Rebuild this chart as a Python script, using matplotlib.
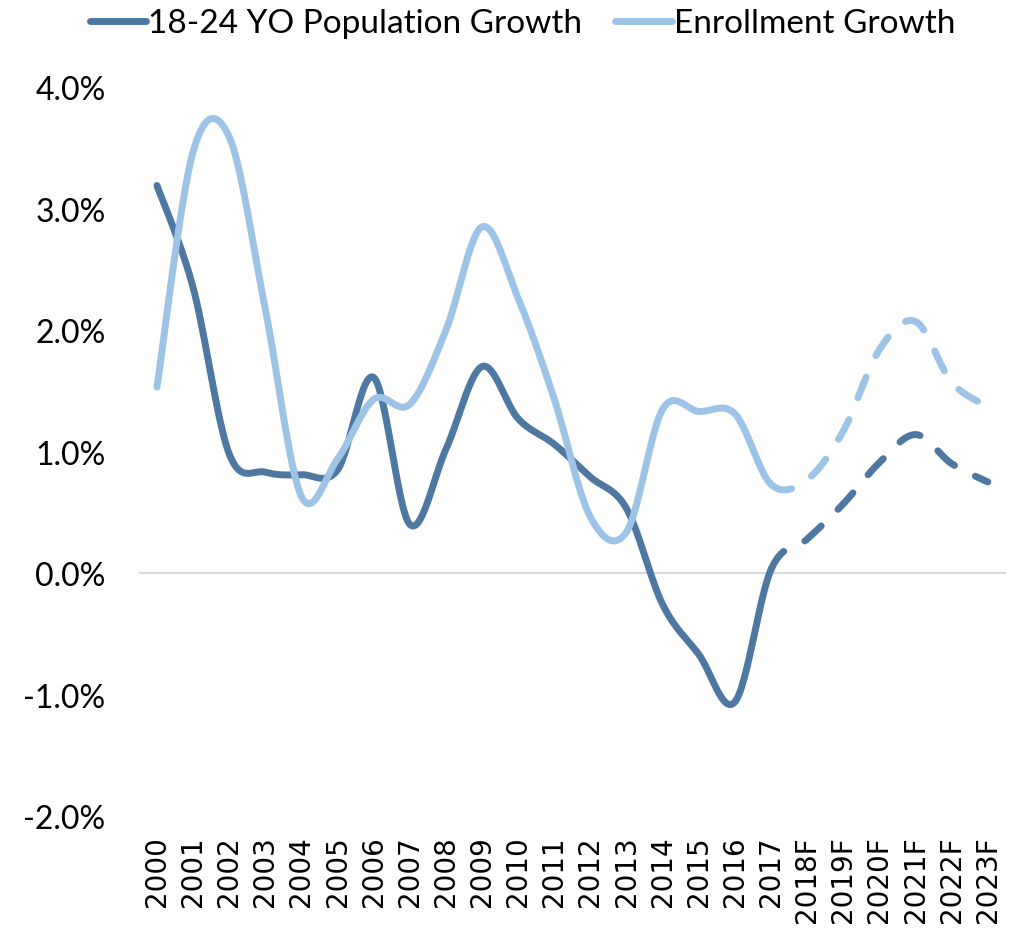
import numpy as np
import matplotlib
matplotlib.use("Agg")
import matplotlib.pyplot as plt
from matplotlib.ticker import FuncFormatter

years = ["2000", "2001", "2002", "2003", "2004", "2005", "2006", "2007", "2008",
         "2009", "2010", "2011", "2012", "2013", "2014", "2015", "2016", "2017",
         "2018F", "2019F", "2020F", "2021F", "2022F", "2023F"]
pop_growth = [3.19, 2.35, 0.98, 0.83, 0.81, 0.85, 1.61, 0.40, 1.02, 1.70, 1.27, 1.06,
              0.79, 0.53, -0.26, -0.67, -1.06, 0.03, 0.28, 0.57, 0.91, 1.14, 0.90, 0.75]
enroll_growth = [1.53, 3.47, 3.59, 2.17, 0.63, 0.94, 1.43, 1.39, 2.00, 2.85, 2.26, 1.43,
                 0.46, 0.34, 1.35, 1.33, 1.31, 0.73, 0.77, 1.17, 1.84, 2.07, 1.57, 1.37]
last_actual = years.index("2017")

DARK = "#4e78a2"
LIGHT = "#9dc3e6"


def smooth(x, y, n=30):
    # catmull-rom style bezier, like excel's smoothed line
    x = np.asarray(x, float)
    y = np.asarray(y, float)
    xs, ys, seg = [], [], []
    for i in range(len(x) - 1):
        x0, y0 = (x[i - 1], y[i - 1]) if i > 0 else (x[i], y[i])
        x3, y3 = (x[i + 2], y[i + 2]) if i + 2 < len(x) else (x[i + 1], y[i + 1])
        p1 = np.array([x[i], y[i]])
        p2 = np.array([x[i + 1], y[i + 1]])
        c1 = p1 + (p2 - np.array([x0, y0])) / 6
        c2 = p2 - (np.array([x3, y3]) - p1) / 6
        t = np.linspace(0, 1, n)[:, None]
        pts = (1 - t) ** 3 * p1 + 3 * (1 - t) ** 2 * t * c1 + 3 * (1 - t) * t ** 2 * c2 + t ** 3 * p2
        xs.append(pts[:, 0])
        ys.append(pts[:, 1])
        seg.append(np.full(n, i))
    return np.concatenate(xs), np.concatenate(ys), np.concatenate(seg)


plt.rcParams["font.family"] = ["Lato", "DejaVu Sans"]

fig = plt.figure(figsize=(10.14, 9.37), dpi=100)
ax = fig.add_axes([0.137, 0.128, 0.855, 0.778])

xpos = np.arange(len(years))
ax.axhline(0, color="#d9d9d9", lw=1.5, zorder=1)

for vals, col, lab in [(pop_growth, DARK, "18-24 YO Population Growth"),
                       (enroll_growth, LIGHT, "Enrollment Growth")]:
    sx, sy, seg = smooth(xpos, vals)
    solid = seg < last_actual
    dashed = seg >= last_actual
    ax.plot(sx[solid], sy[solid], color=col, lw=5, solid_capstyle="round", label=lab, zorder=3)
    ax.plot(sx[dashed], sy[dashed], color=col, lw=5, dashes=(3.2, 3.4),
            dash_capstyle="round", zorder=3)

ax.set_xlim(-0.5, len(years) - 0.5)
ax.set_ylim(-2, 4)
ax.set_yticks(np.arange(-2, 4.01, 1))
ax.yaxis.set_major_formatter(FuncFormatter(lambda v, p: f"{v:.1f}%"))
ax.set_xticks(xpos)
ax.set_xticklabels(years, rotation=90, family="DejaVu Sans", fontsize=20)
ax.tick_params(axis="y", length=0, pad=24, labelsize=23)
ax.tick_params(axis="x", length=0, pad=14)
for s in ax.spines.values():
    s.set_visible(False)

fig.legend(loc="upper center", bbox_to_anchor=(0.515, 1.022), ncol=2, frameon=False,
           fontsize=24, handlelength=1.7, handletextpad=0.05, columnspacing=1.0)

fig.savefig("out.png", dpi=100)
